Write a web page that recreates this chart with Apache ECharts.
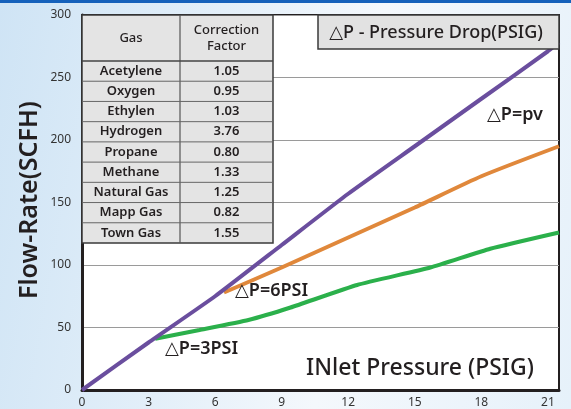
<!DOCTYPE html>
<html>
<head>
<meta charset="utf-8">
<script src="https://cdn.jsdelivr.net/npm/echarts@6/dist/echarts.min.js"></script>
<style>
  html, body { margin: 0; padding: 0; }
  body {
    width: 571px; height: 409px; overflow: hidden; position: relative;
    background: linear-gradient(100deg, #cfe4f5 0%, #e3eff9 35%, #f4f8fc 60%, #e6f1fa 100%);
  }
  #bar { position: absolute; left: 0; top: 0; width: 571px; height: 3px; background: #1561bb; }
  #chart { position: absolute; left: 0; top: 0; width: 571px; height: 409px; }
</style>
</head>
<body>
<div id="bar"></div>
<div id="chart"></div>
<script>
// ---- data ----
const xTickLabels = [0, 3, 6, 9, 12, 15, 18, 21];
const yTickLabels = [0, 50, 100, 150, 200, 250, 300];

const pvX = [0, 3, 6, 9, 12, 15, 18, 21, 21.5];
const pvY = [0, 38, 75, 116, 157, 195, 233, 271, 278];

const psi6X = [6.4, 9, 12, 15, 18, 21.5];
const psi6Y = [78, 98, 122, 146, 171, 195];

const psi3X = [3.3, 5.3, 7.5, 9.4, 12.4, 15.7, 18.4, 21.5];
const psi3Y = [41, 48, 56, 66, 84, 98, 113, 126];

const gasNames = ['Acetylene', 'Oxygen', 'Ethylen', 'Hydrogen', 'Propane', 'Methane', 'Natural Gas', 'Mapp Gas', 'Town Gas'];
const gasFactors = ['1.05', '0.95', '1.03', '3.76', '0.80', '1.33', '1.25', '0.82', '1.55'];
const tableHeaders = ['Gas', 'Correction\nFactor'];

// ---- build ----
const zip = (xs, ys) => xs.map((x, i) => [x, ys[i]]);
const FONT = '"Noto Sans", "DejaVu Sans", sans-serif';

const chart = echarts.init(document.getElementById('chart'), null, { renderer: 'canvas' });

// table geometry
const tL = 82, tT = 15, tR = 273, tHeadB = 61, tB = 243, tMid = 180;
const rowH = (tB - tHeadB) / gasNames.length;
const tableEls = [];
tableEls.push({ type: 'rect', shape: { x: tL, y: tT, width: tR - tL, height: tB - tT },
  style: { fill: '#e4e4e4', stroke: '#3a3a3a', lineWidth: 1.5 }, z: 10 });
tableEls.push({ type: 'line', shape: { x1: tMid, y1: tT, x2: tMid, y2: tB }, style: { stroke: '#555', lineWidth: 1.2 }, z: 11 });
tableEls.push({ type: 'line', shape: { x1: tL, y1: tHeadB, x2: tR, y2: tHeadB }, style: { stroke: '#444', lineWidth: 1.5 }, z: 11 });
for (let i = 1; i < gasNames.length; i++) {
  const y = tHeadB + rowH * i;
  tableEls.push({ type: 'line', shape: { x1: tL, y1: y, x2: tR, y2: y }, style: { stroke: '#666', lineWidth: 1 }, z: 11 });
}
tableEls.push({ type: 'text', z: 12, style: { text: tableHeaders[0], x: (tL + tMid) / 2, y: (tT + tHeadB) / 2,
  align: 'center', verticalAlign: 'middle', fill: '#231f20', font: '500 13px ' + FONT } });
tableEls.push({ type: 'text', z: 12, style: { text: tableHeaders[1], x: (tMid + tR) / 2, y: (tT + tHeadB) / 2,
  align: 'center', verticalAlign: 'middle', fill: '#231f20', font: '500 13px ' + FONT, lineHeight: 16 } });
gasNames.forEach((g, i) => {
  const cy = tHeadB + rowH * (i + 0.5);
  tableEls.push({ type: 'text', z: 12, style: { text: g, x: (tL + tMid) / 2, y: cy, align: 'center', verticalAlign: 'middle',
    fill: '#231f20', font: '600 13px ' + FONT } });
  tableEls.push({ type: 'text', z: 12, style: { text: gasFactors[i], x: (tMid + tR) / 2, y: cy, align: 'center', verticalAlign: 'middle',
    fill: '#231f20', font: '600 13px ' + FONT } });
});

const labelText = (txt, x, y, size) => ({
  type: 'text', z: 12,
  style: { text: txt, x: x, y: y, align: 'left', verticalAlign: 'middle', fill: '#231f20',
    font: '600 ' + size + 'px ' + FONT }
});

const option = {
  animation: false,
  backgroundColor: 'transparent',
  grid: { left: 82, right: 12, top: 15, bottom: 19, show: true, backgroundColor: '#ffffff',
    borderColor: '#231f20', borderWidth: 2, containLabel: false },
  xAxis: {
    type: 'value', min: 0, max: 21.5, interval: 3,
    axisLine: { show: true, lineStyle: { color: '#231f20', width: 3 } },
    axisTick: { show: false },
    splitLine: { show: false },
    axisLabel: { color: '#333', fontSize: 12, fontFamily: FONT, margin: 7, showMaxLabel: false,
      formatter: v => (xTickLabels.indexOf(v) >= 0 ? String(v) : '') }
  },
  yAxis: {
    type: 'value', min: 0, max: 300, interval: 50,
    axisLine: { show: true, lineStyle: { color: '#231f20', width: 3 } },
    axisTick: { show: false },
    splitLine: { show: true, lineStyle: { color: '#9a9a9a', width: 1 } },
    axisLabel: { color: '#333', fontSize: 12, fontFamily: FONT, margin: 11,
      formatter: v => (yTickLabels.indexOf(v) >= 0 ? String(v) : '') }
  },
  series: [
    { type: 'line', data: zip(psi3X, psi3Y), showSymbol: false, smooth: 0.15, z: 3,
      lineStyle: { color: '#2bb04b', width: 4 } },
    { type: 'line', data: zip(psi6X, psi6Y), showSymbol: false, smooth: 0.2, z: 4,
      lineStyle: { color: '#e0883b', width: 4 } },
    { type: 'line', data: zip(pvX, pvY), showSymbol: false, smooth: 0.15, z: 5,
      lineStyle: { color: '#6a4e9e', width: 4 } }
  ],
  graphic: [
    ...tableEls,
    { type: 'rect', z: 10, shape: { x: 318, y: 15, width: 241, height: 34 },
      style: { fill: '#e2e2e2', stroke: '#3a3a3a', lineWidth: 1.5 } },
    { type: 'text', z: 12, style: { text: '△P - Pressure Drop(PSIG)', x: 436, y: 33, align: 'center', verticalAlign: 'middle',
      fill: '#231f20', font: '500 18px ' + FONT } },
    labelText('△P=pv', 487, 115, 18),
    labelText('△P=6PSI', 235, 291, 18),
    labelText('△P=3PSI', 165, 349, 18),
    { type: 'text', z: 12, style: { text: 'INlet Pressure (PSIG)', x: 420, y: 368, align: 'center', verticalAlign: 'middle',
      fill: '#231f20', font: '500 23px ' + FONT } },
    { type: 'text', z: 12, rotation: Math.PI / 2, x: 30, y: 200,
      style: { text: 'Flow-Rate(SCFH)', x: 0, y: 0, align: 'center', verticalAlign: 'middle',
        fill: '#231f20', font: '600 25px ' + FONT } }
  ]
};
chart.setOption(option);
</script>
</body>
</html>
